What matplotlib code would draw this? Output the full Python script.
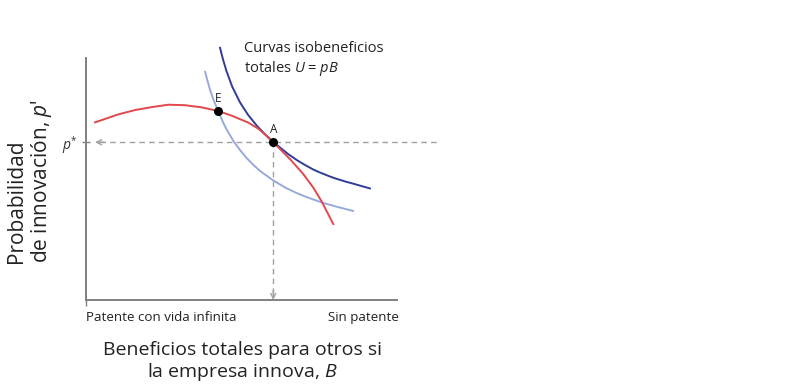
import matplotlib
matplotlib.use("Agg")
import matplotlib.pyplot as plt

plt.rcParams['font.family'] = ['Open Sans', 'DejaVu Sans']
plt.rcParams['mathtext.fontset'] = 'custom'
plt.rcParams['mathtext.it'] = 'Open Sans:italic'
plt.rcParams['mathtext.rm'] = 'Open Sans'

# --- data (axis units 0..10) ---
red_B = [0.29, 1.04, 1.58, 2.11, 2.65, 3.18, 3.72, 4.25, 4.68, 5.22, 5.54, 5.81,
         6.02, 6.56, 6.99, 7.31, 7.58, 7.95]
red_p = [7.34, 7.67, 7.85, 7.97, 8.07, 8.05, 7.96, 7.81, 7.62, 7.33, 7.08, 6.78,
         6.52, 5.82, 5.20, 4.64, 4.07, 3.14]

dark_B = [4.31, 4.41, 4.52, 4.70, 4.95, 5.20, 5.50, 5.80, 6.02, 6.50, 6.77, 7.00,
          7.31, 7.50, 7.85, 8.00, 8.38, 8.50, 9.13]
dark_p = [10.42, 9.92, 9.45, 8.82, 8.17, 7.67, 7.19, 6.79, 6.53, 6.03, 5.79, 5.61,
          5.39, 5.28, 5.10, 5.03, 4.88, 4.84, 4.61]

light_B = [3.83, 3.90, 3.99, 4.10, 4.25, 4.40, 4.52, 4.76, 4.95, 5.17, 5.40, 5.59,
           6.02, 6.40, 6.77, 7.10, 7.58, 8.10, 8.59]
light_p = [9.43, 9.09, 8.68, 8.27, 7.81, 7.36, 7.05, 6.53, 6.20, 5.86, 5.56, 5.34,
           4.94, 4.65, 4.42, 4.25, 4.03, 3.84, 3.68]

point_names = ["E", "A"]
point_B = [4.25, 6.02]
point_p = [7.81, 6.52]

p_star = 6.52
B_star = 6.02
dash_left = 0.29
dash_right = 11.32

x_tick_labels = ["Patente con vida infinita", "Sin patente"]

RED = "#e2474c"
DARK = "#2e3d98"
LIGHT = "#97aad9"
GREY = "#a0a0a0"
AXC = "#808080"

fig = plt.figure(figsize=(8.09, 3.91), dpi=100)
ax = fig.add_axes([86/809, 91/391, 311/809, 242/391])
ax.set_xlim(0, 10)
ax.set_ylim(0, 10)
for s in ["top", "right"]:
    ax.spines[s].set_visible(False)
for s in ["left", "bottom"]:
    ax.spines[s].set_color(AXC)
    ax.spines[s].set_linewidth(1.4)

# dashed guides
ax.plot([dash_left + 0.15, dash_right], [p_star, p_star], ls=(0, (4, 3)), color=GREY, lw=1, clip_on=False)
ax.plot([B_star, B_star], [p_star, 0.12], ls=(0, (4, 3)), color=GREY, lw=1, clip_on=False)
ax.annotate("", xy=(dash_left, p_star), xytext=(dash_left + 0.3, p_star),
            arrowprops=dict(arrowstyle="->", color=GREY, lw=1, shrinkA=0, shrinkB=0,
                            mutation_scale=9), annotation_clip=False)
ax.annotate("", xy=(B_star, 0.0), xytext=(B_star, 0.4),
            arrowprops=dict(arrowstyle="->", color=GREY, lw=1, shrinkA=0, shrinkB=0,
                            mutation_scale=9), annotation_clip=False)

# curves
ax.plot(light_B, light_p, color=LIGHT, lw=1.4, clip_on=False, solid_joinstyle="round")
ax.plot(dark_B, dark_p, color=DARK, lw=1.4, clip_on=False, solid_joinstyle="round")
ax.plot(red_B, red_p, color=RED, lw=1.4, clip_on=False, solid_joinstyle="round")

ax.scatter(point_B, point_p, s=30, color="black", zorder=5, clip_on=False)
for n, b, p in zip(point_names, point_B, point_p):
    ax.text(b, p + 0.25, n, ha="center", va="bottom", fontsize=8.5, color="#222222")

# ticks
ax.set_xticks([0])
ax.set_xticklabels([""])
ax.tick_params(axis="x", direction="out", length=4, color=AXC, width=1)
ax.set_yticks([p_star])
ax.set_yticklabels([r"$p^{*}$"], fontsize=10, color="#333333")
ax.tick_params(axis="y", direction="inout", length=6, color=AXC, width=1, pad=3)

ax.text(0, -0.45, x_tick_labels[0], ha="left", va="top", fontsize=9.6, color="#222222")
ax.text(10.05, -0.45, x_tick_labels[1], ha="right", va="top", fontsize=9.6, color="#222222")

ax.text(5.08, 10.7, "Curvas isobeneficios\ntotales $U$ = $pB$", ha="left", va="top",
        fontsize=10.5, color="#222222", linespacing=1.25)

fig.text(242/809, 1 - 341/391, "Beneficios totales para otros si\nla empresa innova, $B$",
         ha="center", va="top", fontsize=14, color="#222222", linespacing=1.15)
fig.text(30/809, 1 - 181/391, "Probabilidad\nde innovación, $p$'", rotation=90,
         ha="center", va="center", multialignment="left", fontsize=15, color="#222222",
         linespacing=1.1)

fig.savefig("out.png", dpi=100)
